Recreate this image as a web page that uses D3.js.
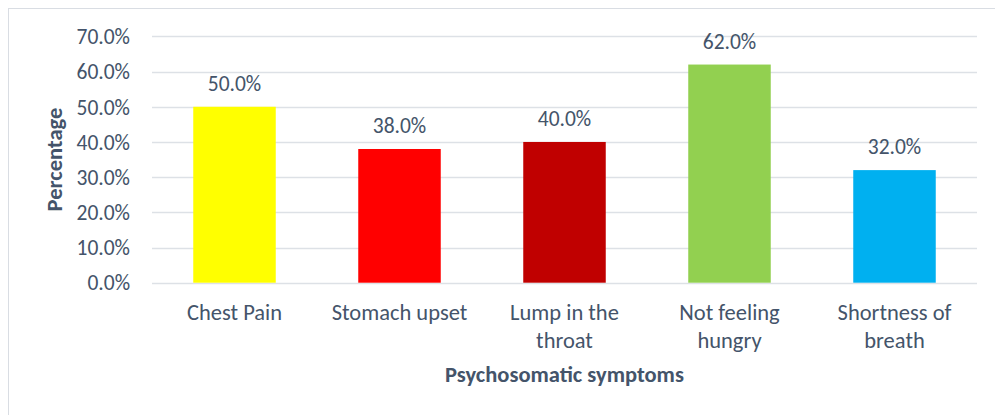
<!DOCTYPE html>
<html>
<head>
<meta charset="utf-8">
<script src="https://d3js.org/d3.v7.min.js"></script>
<style>
  body { margin: 0; background: #fff; }
  svg { display: block; }
  text { font-family: Carlito, Calibri, Lato, sans-serif; fill: #44546a; }
</style>
</head>
<body>
<svg width="995" height="415"></svg>
<script>
// data
var categories = ["Chest Pain", "Stomach upset", "Lump in the throat", "Not feeling hungry", "Shortness of breath"];
var labelLines = [["Chest Pain"], ["Stomach upset"], ["Lump in the", "throat"], ["Not feeling", "hungry"], ["Shortness of", "breath"]];
var values = [50, 38, 40, 62, 32];
var colors = ["#ffff00", "#ff0000", "#c00000", "#92d050", "#00b0f0"];
var yTicks = [0, 10, 20, 30, 40, 50, 60, 70];

var svg = d3.select("svg");

// chart frame
svg.append("rect")
    .attr("x", 8.5).attr("y", 8.5)
    .attr("width", 1000).attr("height", 420)
    .attr("fill", "#fff")
    .attr("stroke", "#d9dde3")
    .attr("stroke-width", 1);

var plotLeft = 152, plotRight = 977, plotTop = 36.4, plotBottom = 282.7;

var x = d3.scaleBand()
    .domain(categories)
    .range([plotLeft, plotRight])
    .paddingInner(0.5)
    .paddingOuter(0.25);

var y = d3.scaleLinear()
    .domain([0, 70])
    .range([plotBottom, plotTop]);

// gridlines
svg.append("g")
    .selectAll("line")
    .data(yTicks)
    .enter().append("line")
        .attr("x1", plotLeft)
        .attr("x2", plotRight)
        .attr("y1", function(d) { return Math.round(y(d)) + 0.5; })
        .attr("y2", function(d) { return Math.round(y(d)) + 0.5; })
        .attr("stroke", "#dde1e6")
        .attr("stroke-width", 1.5);

// y tick labels
svg.append("g")
    .selectAll("text")
    .data(yTicks)
    .enter().append("text")
        .attr("x", 130)
        .attr("y", function(d) { return y(d); })
        .attr("dy", "0.36em")
        .attr("text-anchor", "end")
        .style("font-size", "21.5px")
        .text(function(d) { return d.toFixed(1) + "%"; });

// bars
svg.append("g")
    .selectAll("rect")
    .data(values)
    .enter().append("rect")
        .attr("x", function(d, i) { return x(categories[i]); })
        .attr("y", function(d) { return y(d); })
        .attr("width", x.bandwidth())
        .attr("height", function(d) { return plotBottom - y(d); })
        .attr("fill", function(d, i) { return colors[i]; });

// value labels
svg.append("g")
    .selectAll("text")
    .data(values)
    .enter().append("text")
        .attr("x", function(d, i) { return x(categories[i]) + x.bandwidth() / 2; })
        .attr("y", function(d) { return y(d) - 16; })
        .attr("text-anchor", "middle")
        .style("font-size", "21.5px")
        .text(function(d) { return d.toFixed(1) + "%"; });

// category labels
var cat = svg.append("g")
    .selectAll("text")
    .data(categories)
    .enter().append("text")
        .attr("text-anchor", "middle")
        .style("font-size", "22.5px");

cat.selectAll("tspan")
    .data(function(d, i) { return labelLines[i].map(function(t) { return {t: t, c: d}; }); })
    .enter().append("tspan")
        .attr("x", function(d) { return x(d.c) + x.bandwidth() / 2; })
        .attr("y", function(d, j) { return 320 + j * 28; })
        .text(function(d) { return d.t; });

// axis titles
svg.append("text")
    .attr("x", (plotLeft + plotRight) / 2)
    .attr("y", 382)
    .attr("text-anchor", "middle")
    .style("font-size", "22.5px")
    .style("font-weight", "bold")
    .text("Psychosomatic symptoms");

svg.append("text")
    .attr("transform", "translate(62," + ((plotTop + plotBottom) / 2) + ") rotate(-90)")
    .attr("text-anchor", "middle")
    .style("font-size", "22.5px")
    .style("font-weight", "bold")
    .text("Percentage");
</script>
</body>
</html>
